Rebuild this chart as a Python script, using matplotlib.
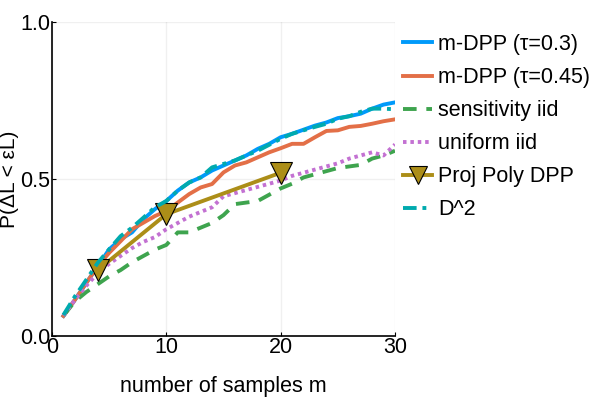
import matplotlib
import numpy as np

matplotlib.use("Agg")

import matplotlib.pyplot as plt

plt.rcParams["font.family"] = ["Liberation Sans", "DejaVu Sans"]

m = np.arange(1, 31)

mdpp_03 = [0.064, 0.115, 0.169, 0.222, 0.276, 0.308, 0.330, 0.372, 0.404, 0.430,
           0.463, 0.489, 0.505, 0.527, 0.543, 0.559, 0.575, 0.596, 0.612, 0.633,
           0.644, 0.657, 0.670, 0.680, 0.694, 0.700, 0.708, 0.724, 0.737, 0.744]
mdpp_045 = [0.064, 0.115, 0.169, 0.222, 0.265, 0.302, 0.340, 0.361, 0.382, 0.398,
            0.425, 0.452, 0.473, 0.484, 0.521, 0.543, 0.553, 0.569, 0.585, 0.598,
            0.612, 0.612, 0.633, 0.653, 0.655, 0.666, 0.669, 0.676, 0.684, 0.690]
sens_iid = [0.065, 0.110, 0.140, 0.165, 0.190, 0.210, 0.235, 0.255, 0.275, 0.290,
            0.330, 0.330, 0.345, 0.360, 0.385, 0.420, 0.425, 0.430, 0.450, 0.470,
            0.485, 0.505, 0.515, 0.525, 0.535, 0.540, 0.545, 0.565, 0.575, 0.590]
unif_iid = [0.065, 0.115, 0.160, 0.200, 0.230, 0.255, 0.280, 0.300, 0.315, 0.340,
            0.360, 0.380, 0.395, 0.410, 0.445, 0.455, 0.465, 0.475, 0.485, 0.495,
            0.510, 0.520, 0.530, 0.540, 0.550, 0.565, 0.575, 0.585, 0.575, 0.610]
d2 = [0.067, 0.126, 0.179, 0.233, 0.276, 0.318, 0.345, 0.377, 0.410, 0.430,
      0.463, 0.489, 0.505, 0.537, 0.548, 0.559, 0.575, 0.590, 0.609, 0.628,
      0.644, 0.655, 0.666, 0.676, 0.692, 0.700, 0.714, 0.724, 0.724, 0.722]
poly_m = [4, 10, 20]
poly_vals = [0.21, 0.388, 0.52]

fig = plt.figure(figsize=(6, 4), dpi=100)
ax = fig.add_axes([52 / 600, 64 / 400, 343 / 600, 314 / 400])

lw = 2.8
ax.plot(m, mdpp_03, color="#009AFA", linewidth=lw, label="m-DPP (τ=0.3)")
ax.plot(m, mdpp_045, color="#E36F47", linewidth=lw, label="m-DPP (τ=0.45)")
ax.plot(m, sens_iid, color="#3EA44E", linewidth=lw, linestyle=(0, (3.5, 2.5)), label="sensitivity iid")
ax.plot(m, unif_iid, color="#C371D2", linewidth=lw, linestyle=(0, (0.9, 1.0)), label="uniform iid")
ax.plot(poly_m, poly_vals, color="#AC8E18", linewidth=lw, marker="v", markersize=16,
        markeredgecolor="black", markeredgewidth=0.8, label="Proj Poly DPP")
ax.plot(m, d2, color="#00AAAE", linewidth=lw, linestyle=(0, (3.5, 1.5, 1.0, 1.5)), label="D^2")

ax.set_xlim(0, 30)
ax.set_ylim(0, 1)
ax.set_xticks([0, 10, 20, 30])
ax.set_yticks([0.0, 0.5, 1.0])
ax.set_yticklabels(["0.0", "0.5", "1.0"])
ax.grid(True, color="#000000", alpha=0.06, linewidth=1)
for side in ("top", "right"):
    ax.spines[side].set_visible(False)
for side in ("left", "bottom"):
    ax.spines[side].set_linewidth(1.2)
ax.tick_params(direction="in", length=3, width=0.8, labelsize=15.5, pad=1)
ax.set_xlabel("number of samples m", fontsize=15.5, labelpad=13)
ax.set_ylabel("P(ΔL < εL)", fontsize=15, labelpad=1)

leg = fig.legend(loc="upper left", bbox_to_anchor=(0.672, 0.915), frameon=False, fontsize=15.5,
                 handlelength=1.35, handletextpad=0.28, labelspacing=0.56, borderaxespad=0,
                 borderpad=0)
for line in leg.get_lines():
    line.set_markersize(13)

fig.savefig("out.png", dpi=100)
